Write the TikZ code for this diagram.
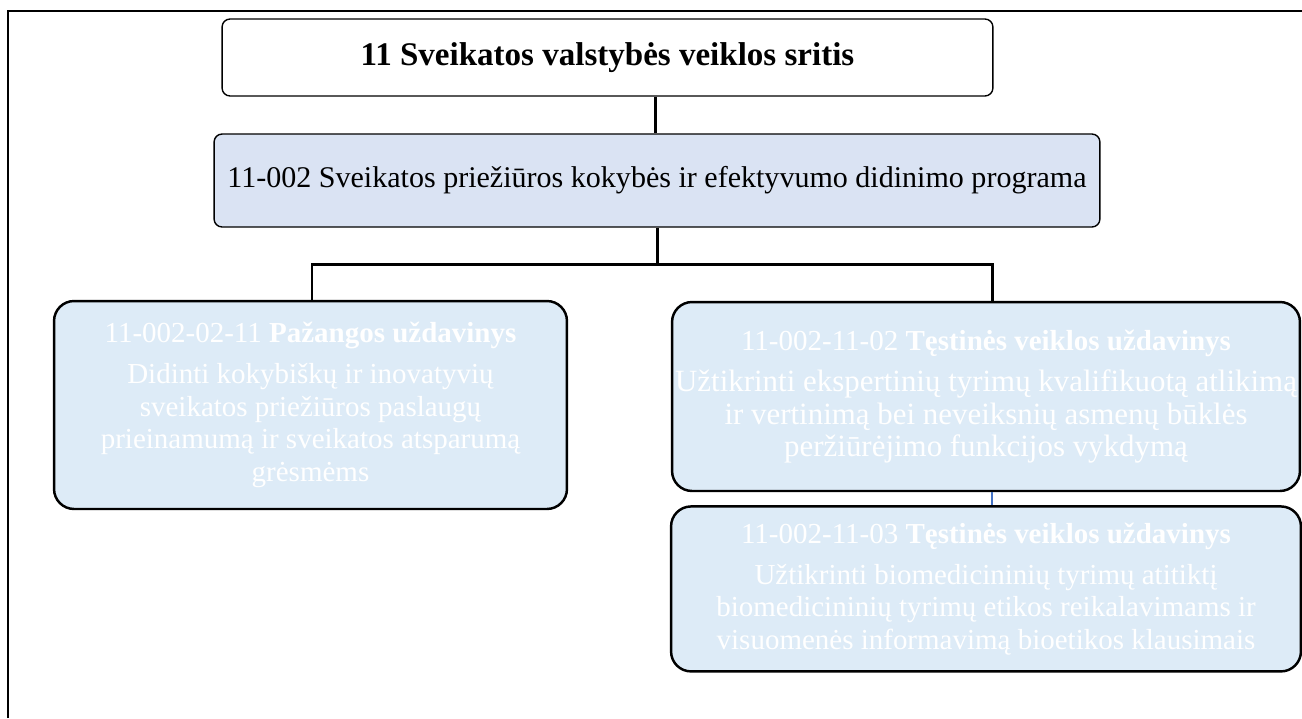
\documentclass[tikz,border=0pt]{standalone}
\usepackage{fontspec}
\setmainfont{Liberation Serif}
\usetikzlibrary{positioning}
\definecolor{ProgFill}{HTML}{DAE3F3}
\definecolor{TaskFill}{HTML}{DDEBF7}
\definecolor{LinkBlue}{HTML}{4472C4}

\begin{document}
\begin{tikzpicture}[x=0.02cm, y=-0.02cm, every node/.style={font=\fontsize{16.5}{18.5}\selectfont}, area/.style={rounded corners=1.6mm, draw=black, line width=0.8pt, fill=white, inner sep=0pt, align=center}, task/.style={rounded corners=4mm, draw=black, line width=1.4pt, fill=TaskFill, text=white, inner sep=0pt, align=center}, link/.style={line width=1.7pt, color=black}, minor/.style={line width=1pt, color=LinkBlue}]
\useasboundingbox (0,0) rectangle (1302,718);
% frame, cut at the right and bottom
\draw[line width=1.4pt] (8,718) -- (8,11) -- (1302,11);
\node[area, minimum width=15.42cm, minimum height=1.54cm, font=\fontsize{18.8}{21}\selectfont] (sritis) at (607.5,57.5) {\textbf{11 Sveikatos valstybės veiklos sritis}};
\node[area, fill=ProgFill, minimum width=17.72cm, minimum height=1.86cm, font=\fontsize{17.1}{19}\selectfont] (prog) at (657,180.5) {11-002 Sveikatos priežiūros kokybės ir efektyvumo didinimo programa};
\node[task, minimum width=10.26cm, minimum height=4.16cm] (pazanga) at (310.5,405) {11-002-02-11 \textbf{Pažangos uždavinys}\\[5pt] Didinti kokybiškų ir inovatyvių\\ sveikatos priežiūros paslaugų\\ prieinamumą ir sveikatos atsparumą\\ grėsmėms};
\node[task, minimum width=12.56cm, minimum height=3.78cm] (testine1) at (986,396.5) {11-002-11-02 \textbf{Tęstinės veiklos uždavinys}\\[5pt] {\fontsize{17.6}{18.5}\selectfont Užtikrinti ekspertinių tyrimų kvalifikuotą atlikimą}\\ {\fontsize{17.6}{18.5}\selectfont ir vertinimą bei neveiksnių asmenų būklės}\\ {\fontsize{17.6}{18.5}\selectfont peržiūrėjimo funkcijos vykdymą}};
\node[task, minimum width=12.6cm, minimum height=3.3cm, below=0.26cm of testine1] (testine2) {11-002-11-03 \textbf{Tęstinės veiklos uždavinys}\\[5pt] Užtikrinti biomedicininių tyrimų atitiktį\\ biomedicininių tyrimų etikos reikalavimams ir\\ visuomenės informavimą bioetikos klausimais};
\coordinate (fork) at (657,264);
\draw[link] (sritis.south -| 655,0) -- (prog.north -| 655,0);
\draw[link] (prog.south -| fork) -- (fork);
\draw[link] (pazanga.north -| 312,0) |- (fork) -| (testine1.north -| 992,0);
\draw[minor] (testine1.south -| 992,0) -- (testine2.north -| 992,0);
\end{tikzpicture}
\end{document}
